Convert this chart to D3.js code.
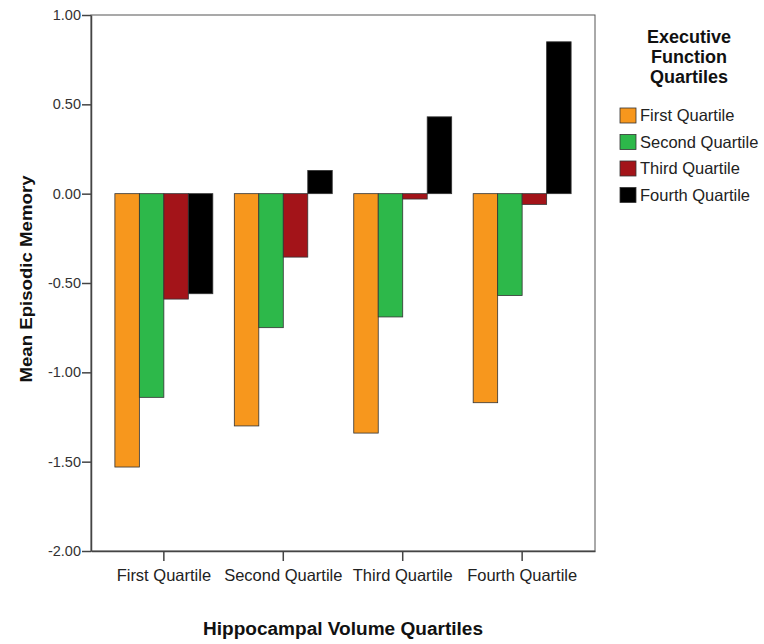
<!DOCTYPE html>
<html>
<head>
<meta charset="utf-8">
<script src="https://cdn.jsdelivr.net/npm/d3@7"></script>
<style>
  body { margin: 0; background: #fff; }
  text { font-family: "Liberation Sans", Arial, sans-serif; }
</style>
</head>
<body>
<script>
// groups on the x axis
const groups = ['First Quartile', 'Second Quartile', 'Third Quartile', 'Fourth Quartile'];
// series (legend)
const series = ['First Quartile', 'Second Quartile', 'Third Quartile', 'Fourth Quartile'];
const colors = ['#f7971d', '#2db84a', '#a31419', '#000000'];
// mean episodic memory, one array per executive function quartile
const efFirst  = [-1.53, -1.30, -1.34, -1.17];
const efSecond = [-1.14, -0.75, -0.69, -0.57];
const efThird  = [-0.59, -0.355, -0.03, -0.06];
const efFourth = [-0.56, 0.13, 0.43, 0.85];
const yTicks = [1, 0.5, 0, -0.5, -1, -1.5, -2];

const values = [efFirst, efSecond, efThird, efFourth];

const W = 764, H = 644;
const margin = { top: 15, right: 169, bottom: 93, left: 91 };
const iw = W - margin.left - margin.right;
const ih = H - margin.top - margin.bottom;
const font = '"Liberation Sans", Arial, sans-serif';

const svg = d3.select('body').append('svg')
  .attr('width', W).attr('height', H);

const g = svg.append('g').attr('transform', `translate(${margin.left},${margin.top})`);

const x0 = d3.scaleBand().domain(groups).range([0, iw]).paddingInner(0.18).paddingOuter(0.2);
const x1 = d3.scaleBand().domain(series).range([0, x0.bandwidth()]);
const y = d3.scaleLinear().domain([-2, 1]).range([ih, 0]);

// frame
g.append('rect')
  .attr('width', iw).attr('height', ih)
  .attr('fill', 'none').attr('stroke', '#555').attr('stroke-width', 1);

// bars
const rows = [];
groups.forEach((grp, gi) => {
  series.forEach((s, si) => rows.push({ grp, s, si, v: values[si][gi] }));
});

g.selectAll('.bar').data(rows).enter().append('rect')
  .attr('class', 'bar')
  .attr('x', d => x0(d.grp) + x1(d.s))
  .attr('width', x1.bandwidth())
  .attr('y', d => y(Math.max(0, d.v)))
  .attr('height', d => Math.abs(y(d.v) - y(0)))
  .attr('fill', d => colors[d.si])
  .attr('stroke', '#333').attr('stroke-width', 0.8);

// y axis
const fmt = d => d3.format('.2f')(d).replace('\u2212', '-');
const yAxis = g.append('g')
  .call(d3.axisLeft(y).tickValues(yTicks).tickFormat(fmt).tickSize(9).tickSizeOuter(0));
yAxis.select('.domain').attr('stroke', '#444').attr('stroke-width', 1.5);
yAxis.selectAll('.tick line').attr('stroke', '#444').attr('stroke-width', 1.5);
yAxis.selectAll('.tick text').attr('font-size', 14.5).attr('fill', '#333').attr('x', -10)
  .style('font-family', font);

// x axis
const xAxis = g.append('g').attr('transform', `translate(0,${ih})`)
  .call(d3.axisBottom(x0).tickSize(10).tickSizeOuter(0));
xAxis.select('.domain').attr('stroke', '#444').attr('stroke-width', 1.5);
xAxis.selectAll('.tick text').attr('font-size', 16.5).attr('fill', '#222').attr('dy', '1.0em')
  .style('font-family', font);
xAxis.selectAll('.tick line').attr('stroke', '#444').attr('stroke-width', 1.5);

// axis titles
svg.append('text')
  .attr('x', margin.left + iw / 2).attr('y', 635)
  .attr('text-anchor', 'middle')
  .attr('font-size', 18).attr('font-weight', 'bold').attr('fill', '#111')
  .attr('textLength', 280).attr('lengthAdjust', 'spacingAndGlyphs')
  .text('Hippocampal Volume Quartiles');

svg.append('text')
  .attr('transform', `translate(32,${margin.top + ih / 2 - 4}) rotate(-90)`)
  .attr('text-anchor', 'middle')
  .attr('font-size', 17).attr('font-weight', 'bold').attr('fill', '#111')
  .attr('textLength', 207).attr('lengthAdjust', 'spacingAndGlyphs')
  .text('Mean Episodic Memory');

// legend
const legendTitle = ['Executive', 'Function', 'Quartiles'];
svg.append('g').selectAll('text').data(legendTitle).enter().append('text')
  .attr('x', 689).attr('y', (d, i) => 43 + i * 20)
  .attr('text-anchor', 'middle')
  .attr('font-size', 18).attr('font-weight', 'bold').attr('fill', '#111')
  .text(d => d);

const legend = svg.append('g').selectAll('g').data(series).enter().append('g')
  .attr('transform', (d, i) => `translate(620,${108 + i * 26.5})`);
legend.append('rect')
  .attr('width', 16).attr('height', 15)
  .attr('fill', (d, i) => colors[i]).attr('stroke', '#333').attr('stroke-width', 0.8);
legend.append('text')
  .attr('x', 20).attr('y', 13)
  .attr('font-size', 16.5).attr('fill', '#222')
  .text(d => d);
</script>
</body>
</html>
